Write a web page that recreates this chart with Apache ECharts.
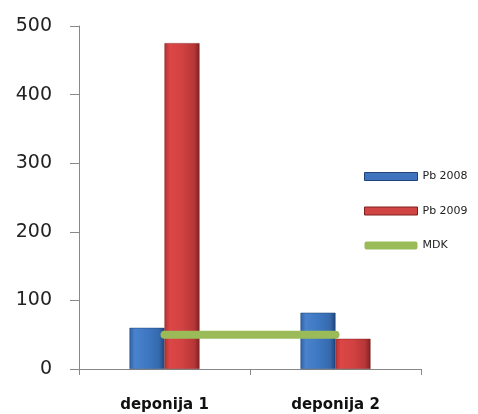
<!DOCTYPE html>
<html><head><meta charset="utf-8">
<script src="https://cdn.jsdelivr.net/npm/echarts@6/dist/echarts.min.js"></script>
<style>html,body{margin:0;padding:0;background:#fff}#c{width:478px;height:414px}</style>
</head><body><div id="c"></div>
<script>
const categories = ['deponija 1', 'deponija 2'];
const pb2008 = [60, 82];
const pb2009 = [475, 44];
const mdk = [50, 50];
const yTicks = [0, 100, 200, 300, 400, 500];

const blueGrad = new echarts.graphic.LinearGradient(0,0,1,0,[
  {offset:0,color:'#2f62a6'},{offset:0.15,color:'#4a82cc'},{offset:0.5,color:'#3f78c2'},{offset:0.85,color:'#3569ad'},{offset:1,color:'#1f4478'}]);
const redGrad = new echarts.graphic.LinearGradient(0,0,1,0,[
  {offset:0,color:'#b43232'},{offset:0.15,color:'#dc4646'},{offset:0.5,color:'#d24242'},{offset:0.85,color:'#b63636'},{offset:1,color:'#7f2020'}]);

const chart = echarts.init(document.getElementById('c'));
chart.setOption({
  backgroundColor:'#fff',
  animation:false,
  grid:{left:79,right:57,top:26,bottom:45},
  legend:{
    orient:'vertical', left:359, top:166, itemWidth:53, itemHeight:8, itemGap:23.5,
    textStyle:{fontFamily:'DejaVu Sans',fontSize:11,color:'#222'},
    data:[
      {name:'Pb 2008',icon:'rect',itemStyle:{color:'#3d74bd',borderColor:'#1f4478',borderWidth:1}},
      {name:'Pb 2009',icon:'rect',itemStyle:{color:'#d04444',borderColor:'#7f2020',borderWidth:1}},
      {name:'MDK',icon:'roundRect',itemStyle:{color:'#9bbb59',borderWidth:0}}
    ]
  },
  xAxis:{
    type:'category', data:categories,
    axisLine:{lineStyle:{color:'#888'}},
    axisTick:{show:true,length:6,lineStyle:{color:'#888'}},
    axisLabel:{margin:29,fontFamily:'DejaVu Sans',fontWeight:'bold',fontSize:15,color:'#111'}
  },
  yAxis:{
    type:'value', min:0, max:500, interval:100,
    axisLine:{show:true,lineStyle:{color:'#888'}},
    axisTick:{show:true,length:9,lineStyle:{color:'#888'}},
    splitLine:{show:false},
    axisLabel:{margin:27,fontFamily:'DejaVu Sans',fontSize:19,color:'#222',
      formatter:v=>yTicks.includes(v)?String(v):''}
  },
  series:[
    {name:'Pb 2008',type:'bar',data:pb2008,barWidth:35,barGap:'0%',
      itemStyle:{color:blueGrad,borderColor:'#1f4478',borderWidth:0.5}},
    {name:'Pb 2009',type:'bar',data:pb2009,barWidth:35,
      itemStyle:{color:redGrad,borderColor:'#7f2020',borderWidth:0.5}},
    {name:'MDK',type:'line',data:mdk,symbol:'none',z:5,
      itemStyle:{color:'#9bbb59'},
      lineStyle:{color:'#9bbb59',width:8,cap:'round'}}
  ]
});
</script></body></html>
